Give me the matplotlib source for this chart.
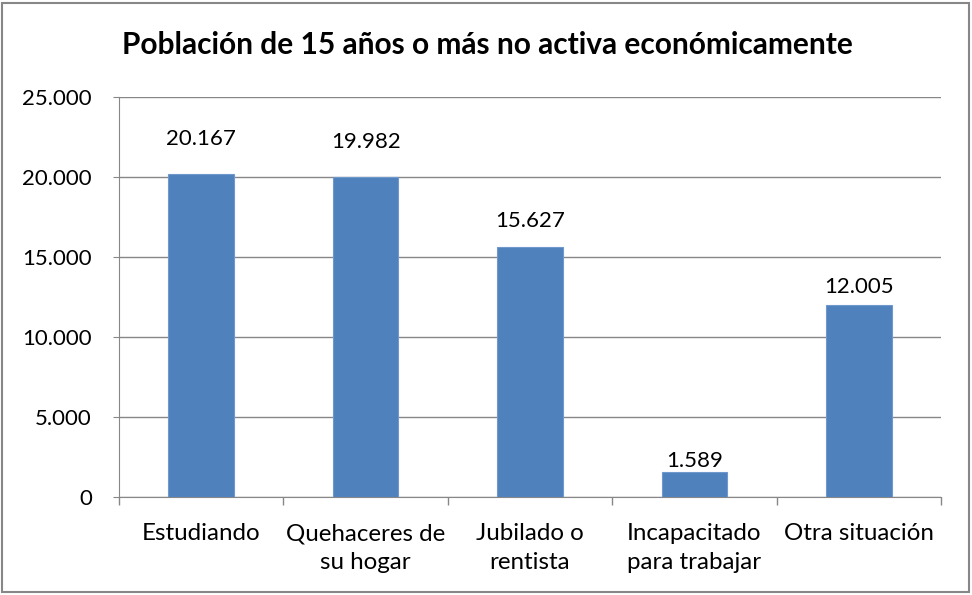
import matplotlib
matplotlib.use("Agg")
import matplotlib.pyplot as plt
from matplotlib.patches import Rectangle

# datos del grafico
categorias = ["Estudiando", "Quehaceres de\nsu hogar", "Jubilado o\nrentista",
              "Incapacitado\npara trabajar", "Otra situación"]
valores = [20167, 19982, 15627, 1589, 12005]
ticks_y = [0, 5000, 10000, 15000, 20000, 25000]

# separacion (en puntos) entre la barra y su etiqueta, como en el original
sep_etiqueta = [18, 18, 11.5, 0.5, 6]

def miles(v):
    # formato con punto como separador de miles
    return f"{v:,.0f}".replace(",", ".")

plt.rcParams['font.family'] = ['Lato', 'DejaVu Sans']

fig = plt.figure(figsize=(9.72, 5.95), dpi=100)
ax = fig.add_axes([119/972, 1 - 497/595, (941-119)/972, (497-97)/595])

x = list(range(len(categorias)))
ax.bar(x, valores, width=0.4, color='#4F81BD', edgecolor='#6F98CC', linewidth=0.8, zorder=3)

for xi, v, s in zip(x, valores, sep_etiqueta):
    ax.annotate(miles(v), (xi, v), xytext=(0, s), textcoords='offset points',
                ha='center', va='bottom', fontsize=16, color='black')

ax.set_xlim(-0.5, len(categorias) - 0.5)
ax.set_ylim(0, 25000)
ax.set_yticks(ticks_y)
ax.set_yticklabels([miles(t) for t in ticks_y], fontsize=16)
ax.grid(axis='y', color='#878787', linewidth=1, zorder=0)

ax.set_xticks(x)
ax.set_xticklabels(categorias, fontsize=17.4, linespacing=1.42)
ax.tick_params(axis='x', length=0, pad=19)
ax.tick_params(axis='y', length=4.5, color='#878787', pad=15)
# marcas entre categorias
ax.set_xticks([i - 0.5 for i in range(len(categorias) + 1)], minor=True)
ax.tick_params(axis='x', which='minor', length=6, color='#878787', width=1)

for s in ['top', 'right']:
    ax.spines[s].set_visible(False)
ax.spines['left'].set_color('#878787')
ax.spines['bottom'].set_color('#878787')

fig.text(487/972, 1 - 45/595, "Población de 15 años o más no activa económicamente",
         ha='center', va='center', fontsize=21.5, fontweight='bold')

# borde del grafico
fig.patches.append(Rectangle((2/972, 3/595), 967/972, 589/595, transform=fig.transFigure,
                             fill=False, edgecolor='#878787', linewidth=1.5))

fig.savefig("out.png", dpi=100)
